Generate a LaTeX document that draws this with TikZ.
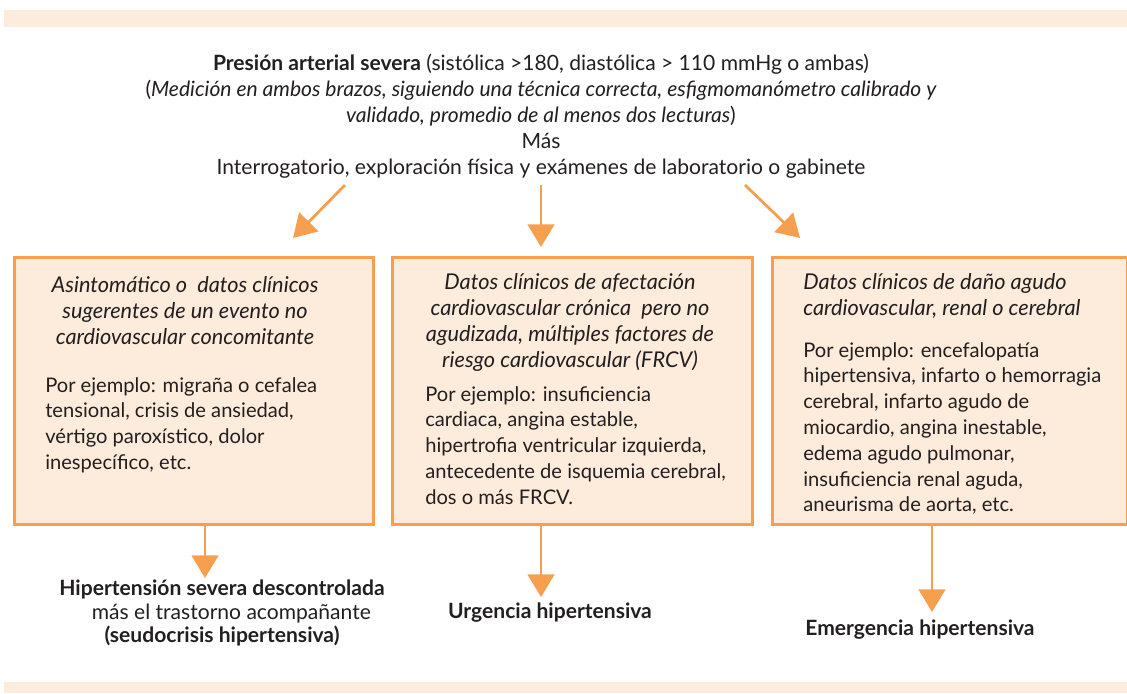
\documentclass[tikz,border=0pt]{standalone}
\usepackage{fontspec}
\setmainfont{Lato}
\usetikzlibrary{arrows.meta}
\definecolor{peach}{HTML}{FDEBDB}
\definecolor{orng}{HTML}{F6A04F}
\definecolor{ink}{HTML}{231F20}
\begin{document}
\begin{tikzpicture}[x=0.75pt,y=-0.75pt,
  every node/.style={text=ink, inner sep=0pt, font=\fontsize{15.1}{19.35}\selectfont},
  top/.style={font=\fontsize{15.8}{19.5}\selectfont},
  ital/.style={font=\fontsize{16.3}{19.6}\selectfont\itshape},
  box/.style={draw=orng, fill=peach, line width=2.2pt, anchor=north west, minimum height=200pt},
  arr/.style={draw=orng, line width=2.1pt, -{Triangle[width=20pt,length=17pt]}},
  band/.style={fill=peach},
  lbl/.style={font=\fontsize{15.8}{17.6}\selectfont\bfseries, align=center}]
\useasboundingbox (0,0) rectangle (1127,693);
\fill[band] (4,10) rectangle (1127,27);
\fill[band] (4,682) rectangle (1127,693);

\node[top, anchor=north, align=center] (title) at (541,54)
  {\textbf{Presión arterial severa} (sistólica >180, diastólica > 110 mmHg o ambas)\\
   (\textit{Medición en ambos brazos, siguiendo una técnica correcta, esfigmomanómetro calibrado y}\\
   \textit{validado, promedio de al menos dos lecturas})\\
   Más\\
   Interrogatorio, exploración física y exámenes de laboratorio o gabinete};

\node[box, minimum width=269.25pt] (b1) at (13,256) {};
\node[box, minimum width=270pt] (b2) at (391,256) {};
\node[box, minimum width=266.25pt] (b3) at (771,256) {};

\node[ital, anchor=north, align=center] (b1h) at (185,276)
  {Asintomático o \ datos clínicos\\ sugerentes de un evento no\\ cardiovascular concomitante};
\node[anchor=north west, align=left] (b1t) at (45,377)
  {Por ejemplo: migraña o cefalea\\ tensional, crisis de ansiedad,\\ vértigo paroxístico, dolor\\ inespecífico, etc.};

\node[ital, anchor=north, align=center] (b2h) at (570,273)
  {Datos clínicos de afectación\\ cardiovascular crónica \ pero no\\ agudizada, múltiples factores de\\ riesgo cardiovascular (FRCV)};
\node[anchor=north west, align=left] (b2t) at (425,386)
  {Por ejemplo: insuficiencia\\ cardiaca, angina estable,\\ hipertrofia ventricular izquierda,\\ antecedente de isquemia cerebral,\\ dos o más FRCV.};

\node[ital, anchor=north west, align=left] (b3h) at (803,273)
  {Datos clínicos de daño agudo\\ cardiovascular, renal o cerebral};
\node[anchor=north west, align=left] (b3t) at (803,342)
  {Por ejemplo: encefalopatía\\ hipertensiva, infarto o hemorragia\\ cerebral, infarto agudo de\\ miocardio, angina inestable,\\ edema agudo pulmonar,\\ insuficiencia renal aguda,\\ aneurisma de aorta, etc.};

\node[lbl, anchor=north] (r1) at (222,580)
  {Hipertensión severa descontrolada\\ \mdseries\hspace*{14pt}más el trastorno acompañante\\ (seudocrisis hipertensiva)};
\node[lbl] (r2) at (550,613) {Urgencia hipertensiva};
\node[lbl] (r3) at (920,630) {Emergencia hipertensiva};

\coordinate (s1) at (345,185);
\coordinate (e1) at (293,238);
\coordinate (s2) at (541,185);
\coordinate (e2) at (541,247);
\coordinate (s3) at (745,185);
\coordinate (e3) at (800,238);
\coordinate (d1) at (205,578);
\coordinate (d2) at (541,597);
\coordinate (d3) at (932,612);

\draw[arr] (s1) -- (e1);
\draw[arr] (s2) -- (e2);
\draw[arr] (s3) -- (e3);
\draw[arr] (b1.south -| d1) -- (d1);
\draw[arr] (b2.south -| d2) -- (d2);
\draw[arr] (b3.south -| d3) -- (d3);
\end{tikzpicture}
\end{document}
